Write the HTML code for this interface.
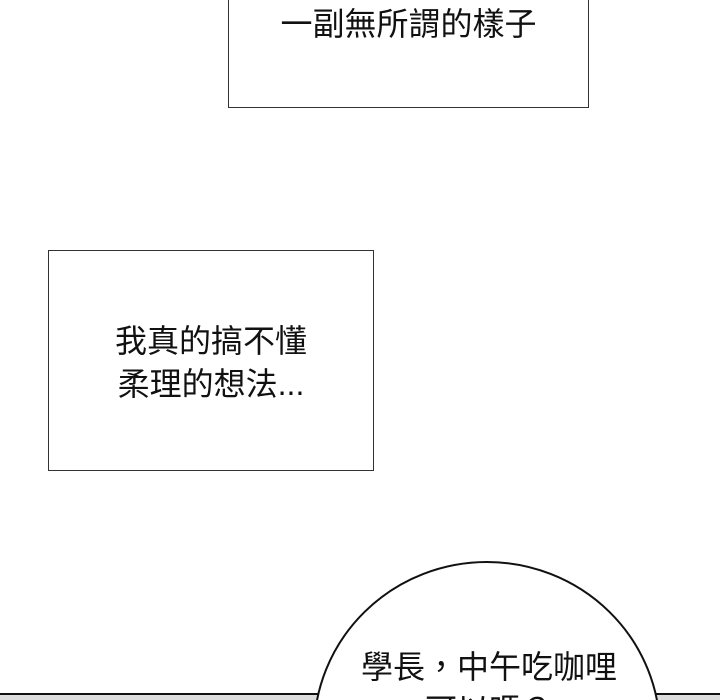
<!DOCTYPE html>
<html><head><meta charset="utf-8"><style>
html,body{margin:0;padding:0;overflow:hidden;width:720px;height:700px}
#w{width:720px;height:700px;background:#fff;position:relative;overflow:hidden;font-family:"Liberation Sans","Noto Sans CJK TC",sans-serif;color:#111}
.box{position:absolute;border:1px solid #333;background:#fff;box-sizing:border-box}
.t{position:absolute;font-size:32px;text-align:center;line-height:43px;white-space:nowrap}
</style></head><body><div id="w">
<div class="box" style="left:228px;top:0;width:361px;height:108px;border-top:none"></div>
<div class="t" style="left:228px;top:3px;width:361px">一副無所謂的樣子</div>
<div class="box" style="left:48px;top:250px;width:326px;height:221px"></div>
<div class="t" style="left:48px;top:320px;width:326px">我真的搞不懂<br>柔理的想法...</div>
<svg style="position:absolute;left:0;top:0" width="720" height="700">
<rect x="0" y="693" width="720" height="2" fill="#111"/>
<rect x="0" y="695" width="720" height="5" fill="#dcdcdc"/>
<ellipse cx="487" cy="732" rx="173" ry="170" fill="#fff" stroke="#111" stroke-width="2"/>
</svg>
<div class="t" style="left:339px;top:646px;width:300px;height:54px;overflow:hidden">學長，中午吃咖哩<br>可以嗎？</div>
</div></body></html>
